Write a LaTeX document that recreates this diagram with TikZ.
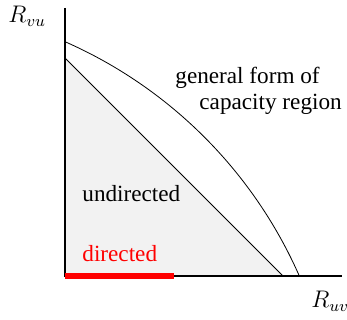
\documentclass[tikz,border=0pt]{standalone}
\usepackage{fontspec}
\setmainfont{Liberation Serif}
\newcommand{\lblfont}{\fontsize{11.6}{14}\selectfont}
\begin{document}
\begin{tikzpicture}[x=0.5pt, y=0.5pt, every node/.style={inner sep=0pt}]
    \useasboundingbox (-65, -44) rectangle (282, 276);
    \coordinate (O) at (0, 0);
    \coordinate (top) at (0, 268);
    \coordinate (right) at (277, 0);
    \fill[gray!10] (O) -- (0, 218) -- (218, 0) -- cycle;
    \draw (0, 218) -- (218, 0);
    \draw (0, 234.3) arc[start angle=66.26, end angle=23.74, radius=457];
    \draw[line width=0.6pt] (top) -- (O) -- (right);
    \draw[red, line width=3pt] (O) -- (109, 0);
    \node[anchor=base west] (rvu) at (-57, 253) {\lblfont $R_{vu}$};
    \node[anchor=base west] (ruv) at (246, -32) {\lblfont $R_{uv}$};
    \node[anchor=base west] (gen) at (110, 192) {\lblfont general form of};
    \node[anchor=base west] (cap) at (134, 166) {\lblfont capacity region};
    \node[anchor=base west] (und) at (17, 74) {\lblfont undirected};
    \node[anchor=base west, red] (dir) at (17, 14) {\lblfont directed};
\end{tikzpicture}
\end{document}
